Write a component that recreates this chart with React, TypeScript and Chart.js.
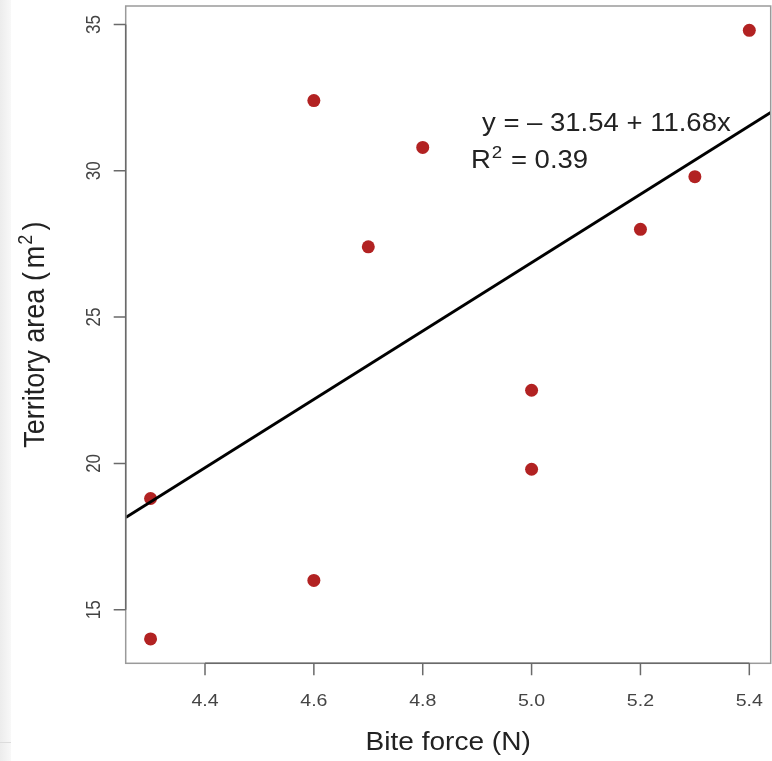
import React, { useEffect, useRef } from "react";
import { Chart, registerables } from "chart.js";

Chart.register(...registerables);

const biteForce = [4.3, 4.3, 4.6, 4.6, 4.7, 4.8, 5.0, 5.0, 5.2, 5.3, 5.4];
const territoryArea = [18.8, 14.0, 32.4, 16.0, 27.4, 30.8, 22.5, 19.8, 28.0, 29.8, 34.8];
const xTicks = [4.4, 4.6, 4.8, 5.0, 5.2, 5.4];
const yTicks = [15, 20, 25, 30, 35];
const intercept = -31.54;
const slope = 11.68;
const rSquared = 0.39;
const X_MIN = 4.2543;
const X_MAX = 5.4393;
const Y_MIN = 13.168;
const Y_MAX = 35.632;

const FONT = "'Liberation Sans', Arial, Helvetica, sans-serif";

function txt(ctx: any, s: string, x: number, y: number, size: number, sx: number, align: string, rot = 0) {
  ctx.save();
  ctx.translate(x, y);
  if (rot) ctx.rotate(rot);
  if (rot) ctx.scale(1, sx);
  else ctx.scale(sx, 1);
  ctx.font = `${size}px ${FONT}`;
  ctx.textAlign = align;
  ctx.fillText(s, 0, 0);
  ctx.restore();
}

function w(ctx: any, s: string, size: number) {
  ctx.save();
  ctx.font = `${size}px ${FONT}`;
  const m = ctx.measureText(s).width;
  ctx.restore();
  return m;
}

const axesPlugin = {
  id: "rAxes",
  afterDraw(chart: any) {
    const { ctx, chartArea } = chart;
    const xs = chart.scales.x;
    const ys = chart.scales.y;
    const { left, right, top, bottom } = chartArea;
    ctx.save();
    ctx.strokeStyle = "#9a9a9a";
    ctx.lineWidth = 1.5;
    ctx.strokeRect(left, top, right - left, bottom - top);
    ctx.strokeStyle = "#6a6a6a";
    ctx.lineWidth = 1.5;
    const x0 = xs.getPixelForValue(xTicks[0]);
    const x1 = xs.getPixelForValue(xTicks[xTicks.length - 1]);
    ctx.beginPath();
    ctx.moveTo(x0, bottom);
    ctx.lineTo(x1, bottom);
    const y0 = ys.getPixelForValue(yTicks[0]);
    const y1 = ys.getPixelForValue(yTicks[yTicks.length - 1]);
    ctx.moveTo(left, y0);
    ctx.lineTo(left, y1);
    ctx.stroke();
    ctx.beginPath();
    xTicks.forEach((v) => {
      const px = xs.getPixelForValue(v);
      ctx.moveTo(px, bottom);
      ctx.lineTo(px, bottom + 12);
    });
    yTicks.forEach((v) => {
      const py = ys.getPixelForValue(v);
      ctx.moveTo(left, py);
      ctx.lineTo(left - 12, py);
    });
    ctx.stroke();

    ctx.textBaseline = "alphabetic";
    ctx.fillStyle = "#444";
    xTicks.forEach((v) => {
      txt(ctx, v.toFixed(1), xs.getPixelForValue(v), bottom + 43, 17, 1.15, "center");
    });
    yTicks.forEach((v) => {
      txt(ctx, String(v), left - 26, ys.getPixelForValue(v), 17, 1.15, "center", -Math.PI / 2);
    });

    ctx.fillStyle = "#222";
    txt(ctx, "Bite force (N)", (left + right) / 2, 750, 25.5, 1.1, "center");

    // y title with superscript (plotmath-like spacing)
    const fs = 27;
    const yt1 = "Territory area (";
    const yt2 = "m";
    const yt4 = ")";
    const W1 = w(ctx, yt1, fs);
    const W2 = w(ctx, yt2, fs);
    const Ws = w(ctx, "2", 18);
    const W4 = w(ctx, yt4, fs);
    const gap = 4;
    const total = W1 + gap + W2 + 1 + Ws + gap + W4;
    const cy = (top + bottom) / 2;
    let pos = cy + total / 2;
    txt(ctx, yt1, 44, pos, fs, 1.08, "left", -Math.PI / 2);
    pos -= W1 + gap;
    txt(ctx, yt2, 44, pos, fs, 1.08, "left", -Math.PI / 2);
    pos -= W2 + 1;
    txt(ctx, "2", 44 - 12, pos, 18, 1.08, "left", -Math.PI / 2);
    pos -= Ws + gap;
    txt(ctx, yt4, 44, pos, fs, 1.08, "left", -Math.PI / 2);

    // equation
    const eq = `y = \u2013 ${Math.abs(intercept).toFixed(2)} + ${slope.toFixed(2)}x`;
    txt(ctx, eq, 482, 131, 25, 1.1, "left");
    const wr = w(ctx, "R", 25) * 1.1;
    txt(ctx, "R", 471, 168, 25, 1.1, "left");
    txt(ctx, "2", 471 + wr + 1, 158, 17, 1.1, "left");
    const w22 = w(ctx, "2", 17) * 1.1;
    txt(ctx, ` = ${rSquared.toFixed(2)}`, 471 + wr + w22 + 2, 168, 25, 1.1, "left");
    ctx.restore();
  },
};

export default function App() {
  const ref = useRef<HTMLCanvasElement | null>(null);
  useEffect(() => {
    document.body.style.margin = "0";
    const ctx = ref.current!.getContext("2d")!;
    const lineXs = [X_MIN, X_MAX];
    const chart = new Chart(ctx, {
      type: "scatter",
      data: {
        datasets: [
          {
            type: "line",
            data: lineXs.map((x) => ({ x, y: intercept + slope * x })),
            borderColor: "#000",
            borderWidth: 3,
            pointRadius: 0,
            fill: false,
          },
          {
            type: "scatter",
            data: biteForce.map((x, i) => ({ x, y: territoryArea[i] })),
            backgroundColor: "#b22222",
            borderColor: "#b22222",
            borderWidth: 0,
            pointRadius: 6.5,
          },
        ],
      } as any,
      options: {
        animation: false,
        responsive: false,
        layout: { autoPadding: false, padding: { left: 125.7, top: 6, right: 1.3, bottom: 97.7 } },
        plugins: { legend: { display: false }, tooltip: { enabled: false } },
        scales: {
          x: { type: "linear", display: false, min: X_MIN, max: X_MAX },
          y: { type: "linear", display: false, min: Y_MIN, max: Y_MAX },
        },
      },
      plugins: [axesPlugin],
    } as any);
    return () => chart.destroy();
  }, []);
  return (
    <div style={{ position: "relative", width: 772, height: 761, background: "#fff" }}>
      <div style={{ position: "absolute", left: 0, top: 0, width: 11, height: 761, background: "linear-gradient(to right, #ececec, #f8f8f8)" }} />
      <div style={{ position: "absolute", left: 0, top: 742, width: 11, height: 1, background: "#dcdcdc" }} />
      <canvas ref={ref} width={772} height={761} style={{ position: "absolute", left: 0, top: 0 }} />
    </div>
  );
}
